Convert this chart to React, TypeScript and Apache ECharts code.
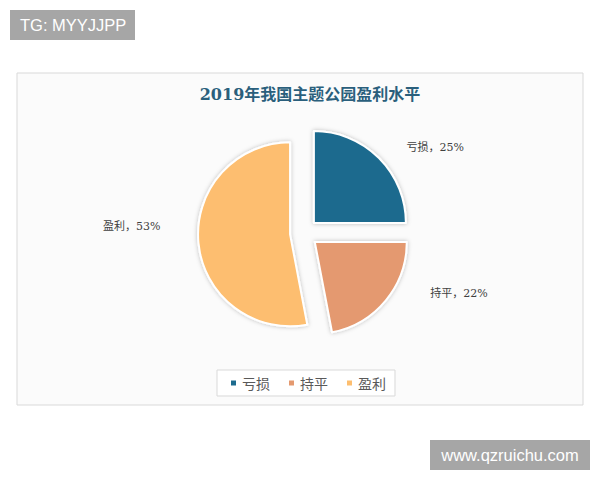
import React, { useEffect, useRef } from "react";
import * as echarts from "echarts";

const categories = ["亏损", "持平", "盈利"];
const values = [25, 22, 53];
const colors = ["#1c6b8e", "#e4996f", "#fdbe6f"];
const titleText = "2019年我国主题公园盈利水平";

export default function App() {
  const ref = useRef<HTMLDivElement>(null);
  useEffect(() => {
    if (!ref.current) return;
    const chart = echarts.init(ref.current, undefined, { renderer: "svg" });
    const labelShift: Record<number, { dx: number; dy: number }> = {
      0: { dx: -6, dy: 0 },
      1: { dx: 10, dy: -17 },
      2: { dx: 0, dy: -18 },
    };
    chart.setOption({
      animation: false,
      backgroundColor: "#ffffff",
      title: {
        text: titleText,
        left: 305,
        top: 81,
        textAlign: "center",
        textStyle: {
          fontSize: 16,
          fontWeight: "bold",
          color: "#2a5f7c",
          fontFamily: "DejaVu Serif, 'Noto Sans CJK SC', serif",
        },
      },
      legend: {
        data: categories,
        left: 217,
        top: 370,
        icon: "rect",
        itemWidth: 7,
        itemHeight: 7,
        itemGap: 17,
        padding: [6, 9, 6, 12],
        borderColor: "#d9d9d9",
        borderWidth: 1,
        backgroundColor: "#ffffff",
        textStyle: {
          fontSize: 14,
          color: "#595959",
          fontFamily: "'Noto Sans CJK SC', sans-serif",
        },
      },
      graphic: [
        {
          type: "rect",
          shape: { x: 17, y: 73, width: 566, height: 332 },
          style: { fill: "#fbfbfb", stroke: "#d9d9d9", lineWidth: 1 },
          z: -10,
        },
        {
          type: "rect",
          shape: { x: 10, y: 10, width: 125, height: 30 },
          style: { fill: "#a6a6a6" },
        },
        {
          type: "text",
          x: 20,
          y: 25,
          style: {
            text: "TG: MYYJJPP",
            fill: "#ffffff",
            fontSize: 16.5,
            fontFamily: "'Liberation Sans', Arial, sans-serif",
            verticalAlign: "middle",
          },
        },
        {
          type: "rect",
          shape: { x: 430, y: 440, width: 160, height: 30 },
          style: { fill: "#a6a6a6" },
        },
        {
          type: "text",
          x: 510,
          y: 455,
          style: {
            text: "www.qzruichu.com",
            fill: "#ffffff",
            fontSize: 16.5,
            fontFamily: "'Liberation Sans', Arial, sans-serif",
            align: "center",
            verticalAlign: "middle",
          },
        },
      ],
      series: [
        {
          type: "pie",
          center: [304, 233],
          radius: [0, 92],
          startAngle: 90,
          clockwise: true,
          selectedMode: "multiple",
          selectedOffset: 14,
          emphasis: { disabled: true },
          select: { itemStyle: {} },
          itemStyle: {
            borderColor: "#ffffff",
            borderWidth: 2,
            shadowBlur: 4,
            shadowColor: "rgba(0,0,0,0.25)",
          },
          label: {
            show: true,
            position: "outside",
            formatter: "{b}，{c}%",
            fontSize: 11,
            color: "#404040",
            fontFamily: "DejaVu Serif, 'Noto Sans CJK SC', serif",
          },
          labelLine: { show: false, length: 15, length2: 18 },
          labelLayout: (params: any) => labelShift[params.dataIndex] || {},
          data: categories.map((name, i) => ({
            name,
            value: values[i],
            selected: true,
            itemStyle: { color: colors[i] },
          })),
        },
      ],
    });
    return () => chart.dispose();
  }, []);
  return (
    <div
      ref={ref}
      style={{ position: "fixed", left: 0, top: 0, width: 600, height: 480 }}
    />
  );
}
